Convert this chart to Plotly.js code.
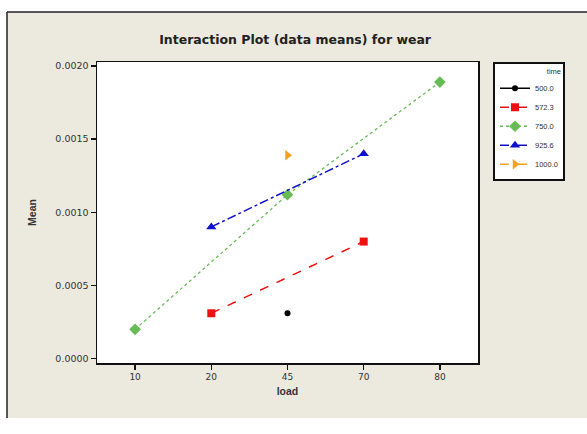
<!DOCTYPE html>
<html>
<head>
<meta charset="utf-8">
<script src="https://cdn.plot.ly/plotly-3.0.1.min.js"></script>
<style>html,body{margin:0;padding:0;background:#fff;}#chart{width:587px;height:434px;}</style>
</head>
<body>
<div id="chart"></div>
<script>
// Categories of load (x axis)
const loadCategories = ['10', '20', '45', '70', '80'];
// Series (time levels) and their means of wear
const time500Load = ['45'];
const time500Mean = [0.00031];
const time572Load = ['20', '70'];
const time572Mean = [0.00031, 0.0008];
const time750Load = ['10', '45', '80'];
const time750Mean = [0.0002, 0.00112, 0.00189];
const time925Load = ['20', '70'];
const time925Mean = [0.0009, 0.0014];
const time1000Load = ['45'];
const time1000Mean = [0.00139];
const seriesNames = ['500.0', '572.3', '750.0', '925.6', '1000.0'];
const yTicks = [0, 0.0005, 0.001, 0.0015, 0.002];

const traces = [
  {x: time500Load, y: time500Mean, name: seriesNames[0], mode: 'lines+markers',
   line: {color: '#000000', width: 1.5, dash: 'solid'},
   marker: {symbol: 'circle', size: 6, color: '#000000'}},
  {x: time572Load, y: time572Mean, name: seriesNames[1], mode: 'lines+markers',
   line: {color: '#ee1111', width: 1.5, dash: 'dash'},
   marker: {symbol: 'square', size: 8, color: '#ee1111'}},
  {x: time750Load, y: time750Mean, name: seriesNames[2], mode: 'lines+markers',
   line: {color: '#66bb55', width: 1.3, dash: 'dot'},
   marker: {symbol: 'diamond', size: 9, color: '#66bb55'}},
  {x: time925Load, y: time925Mean, name: seriesNames[3], mode: 'lines+markers',
   line: {color: '#1111cc', width: 1.5, dash: 'dashdot'},
   marker: {symbol: 'triangle-up', size: 9, color: '#1111cc'}},
  {x: time1000Load, y: time1000Mean, name: seriesNames[4], mode: 'lines+markers',
   line: {color: '#f5a020', width: 1.5, dash: 'dash'},
   marker: {symbol: 'triangle-right', size: 9, color: '#f5a020'}}
];

const fontFam = 'Liberation Sans, Arial, sans-serif';
const tickFam = 'DejaVu Sans, sans-serif';
const W = 381, H = 301; // plot area size in px
const layout = {
  width: 587, height: 434,
  margin: {l: 97, r: 109, t: 62, b: 71, pad: 0},
  paper_bgcolor: '#eceade',
  plot_bgcolor: '#ffffff',
  font: {family: fontFam, color: '#222222'},
  title: {text: '<b>Interaction Plot (data means) for wear</b>', font: {size: 12.5, family: tickFam, color: '#222'},
          x: 0.52, xref: 'paper', xanchor: 'center', y: 1 - 40/434, yref: 'container', yanchor: 'middle'},
  xaxis: {
    type: 'category', categoryorder: 'array', categoryarray: loadCategories,
    range: [-0.5, 4.5],
    showline: true, mirror: true, linecolor: '#111', linewidth: 1.5,
    ticks: 'outside', ticklen: 5, tickwidth: 1.5, tickcolor: '#111',
    showgrid: false, zeroline: false,
    tickfont: {size: 9, family: tickFam, color: '#333'},
    title: {text: '<b>load</b>', font: {size: 10.5, family: fontFam, color: '#333'}, standoff: 6}
  },
  yaxis: {
    range: [-0.00003, 0.002027],
    tickvals: yTicks,
    tickformat: '.4f',
    showline: true, mirror: true, linecolor: '#111', linewidth: 1.5,
    ticks: 'outside', ticklen: 5, tickwidth: 1.5, tickcolor: '#111',
    showgrid: false, zeroline: false,
    tickfont: {size: 9.5, family: tickFam, color: '#333'},
    title: {text: '<b>Mean</b>', font: {size: 10.5, family: fontFam, color: '#333'}, standoff: 16}
  },
  legend: {
    x: (493 - 97) / W, xanchor: 'left', y: 1.0, yanchor: 'top',
    bgcolor: '#ffffff', bordercolor: '#111', borderwidth: 2,
    font: {size: 7.5, family: fontFam, color: '#333'},
    title: {text: 'time', side: 'top right', font: {size: 7.5, family: fontFam, color: '#333'}},
    itemwidth: 30, tracegroupgap: 0
  },
  shapes: [
    // white margins outside the framed figure (left, bottom and top strips)
    {type: 'rect', xref: 'paper', yref: 'paper', layer: 'below',
     x0: -97 / W, x1: (7 - 97) / W, y0: -71 / H, y1: 372 / H,
     fillcolor: '#ffffff', line: {width: 0}},
    {type: 'rect', xref: 'paper', yref: 'paper', layer: 'below',
     x0: -97 / W, x1: 490 / W, y0: -71 / H, y1: (363 - 418) / H,
     fillcolor: '#ffffff', line: {width: 0}},
    {type: 'rect', xref: 'paper', yref: 'paper', layer: 'below',
     x0: -97 / W, x1: 490 / W, y0: (363 - 12) / H, y1: 372 / H,
     fillcolor: '#ffffff', line: {width: 0}},
    // frame lines
    {type: 'line', xref: 'paper', yref: 'paper', layer: 'below',
     x0: (7 - 97) / W, x1: 490 / W, y0: (363 - 12) / H, y1: (363 - 12) / H,
     line: {color: '#222', width: 1.5}},
    {type: 'line', xref: 'paper', yref: 'paper', layer: 'below',
     x0: (7 - 97) / W, x1: (7 - 97) / W, y0: (363 - 418) / H, y1: (363 - 12) / H,
     line: {color: '#222', width: 1.5}}
  ],
  showlegend: true
};

Plotly.newPlot('chart', traces, layout, {displayModeBar: false, staticPlot: true});
</script>
</body>
</html>
